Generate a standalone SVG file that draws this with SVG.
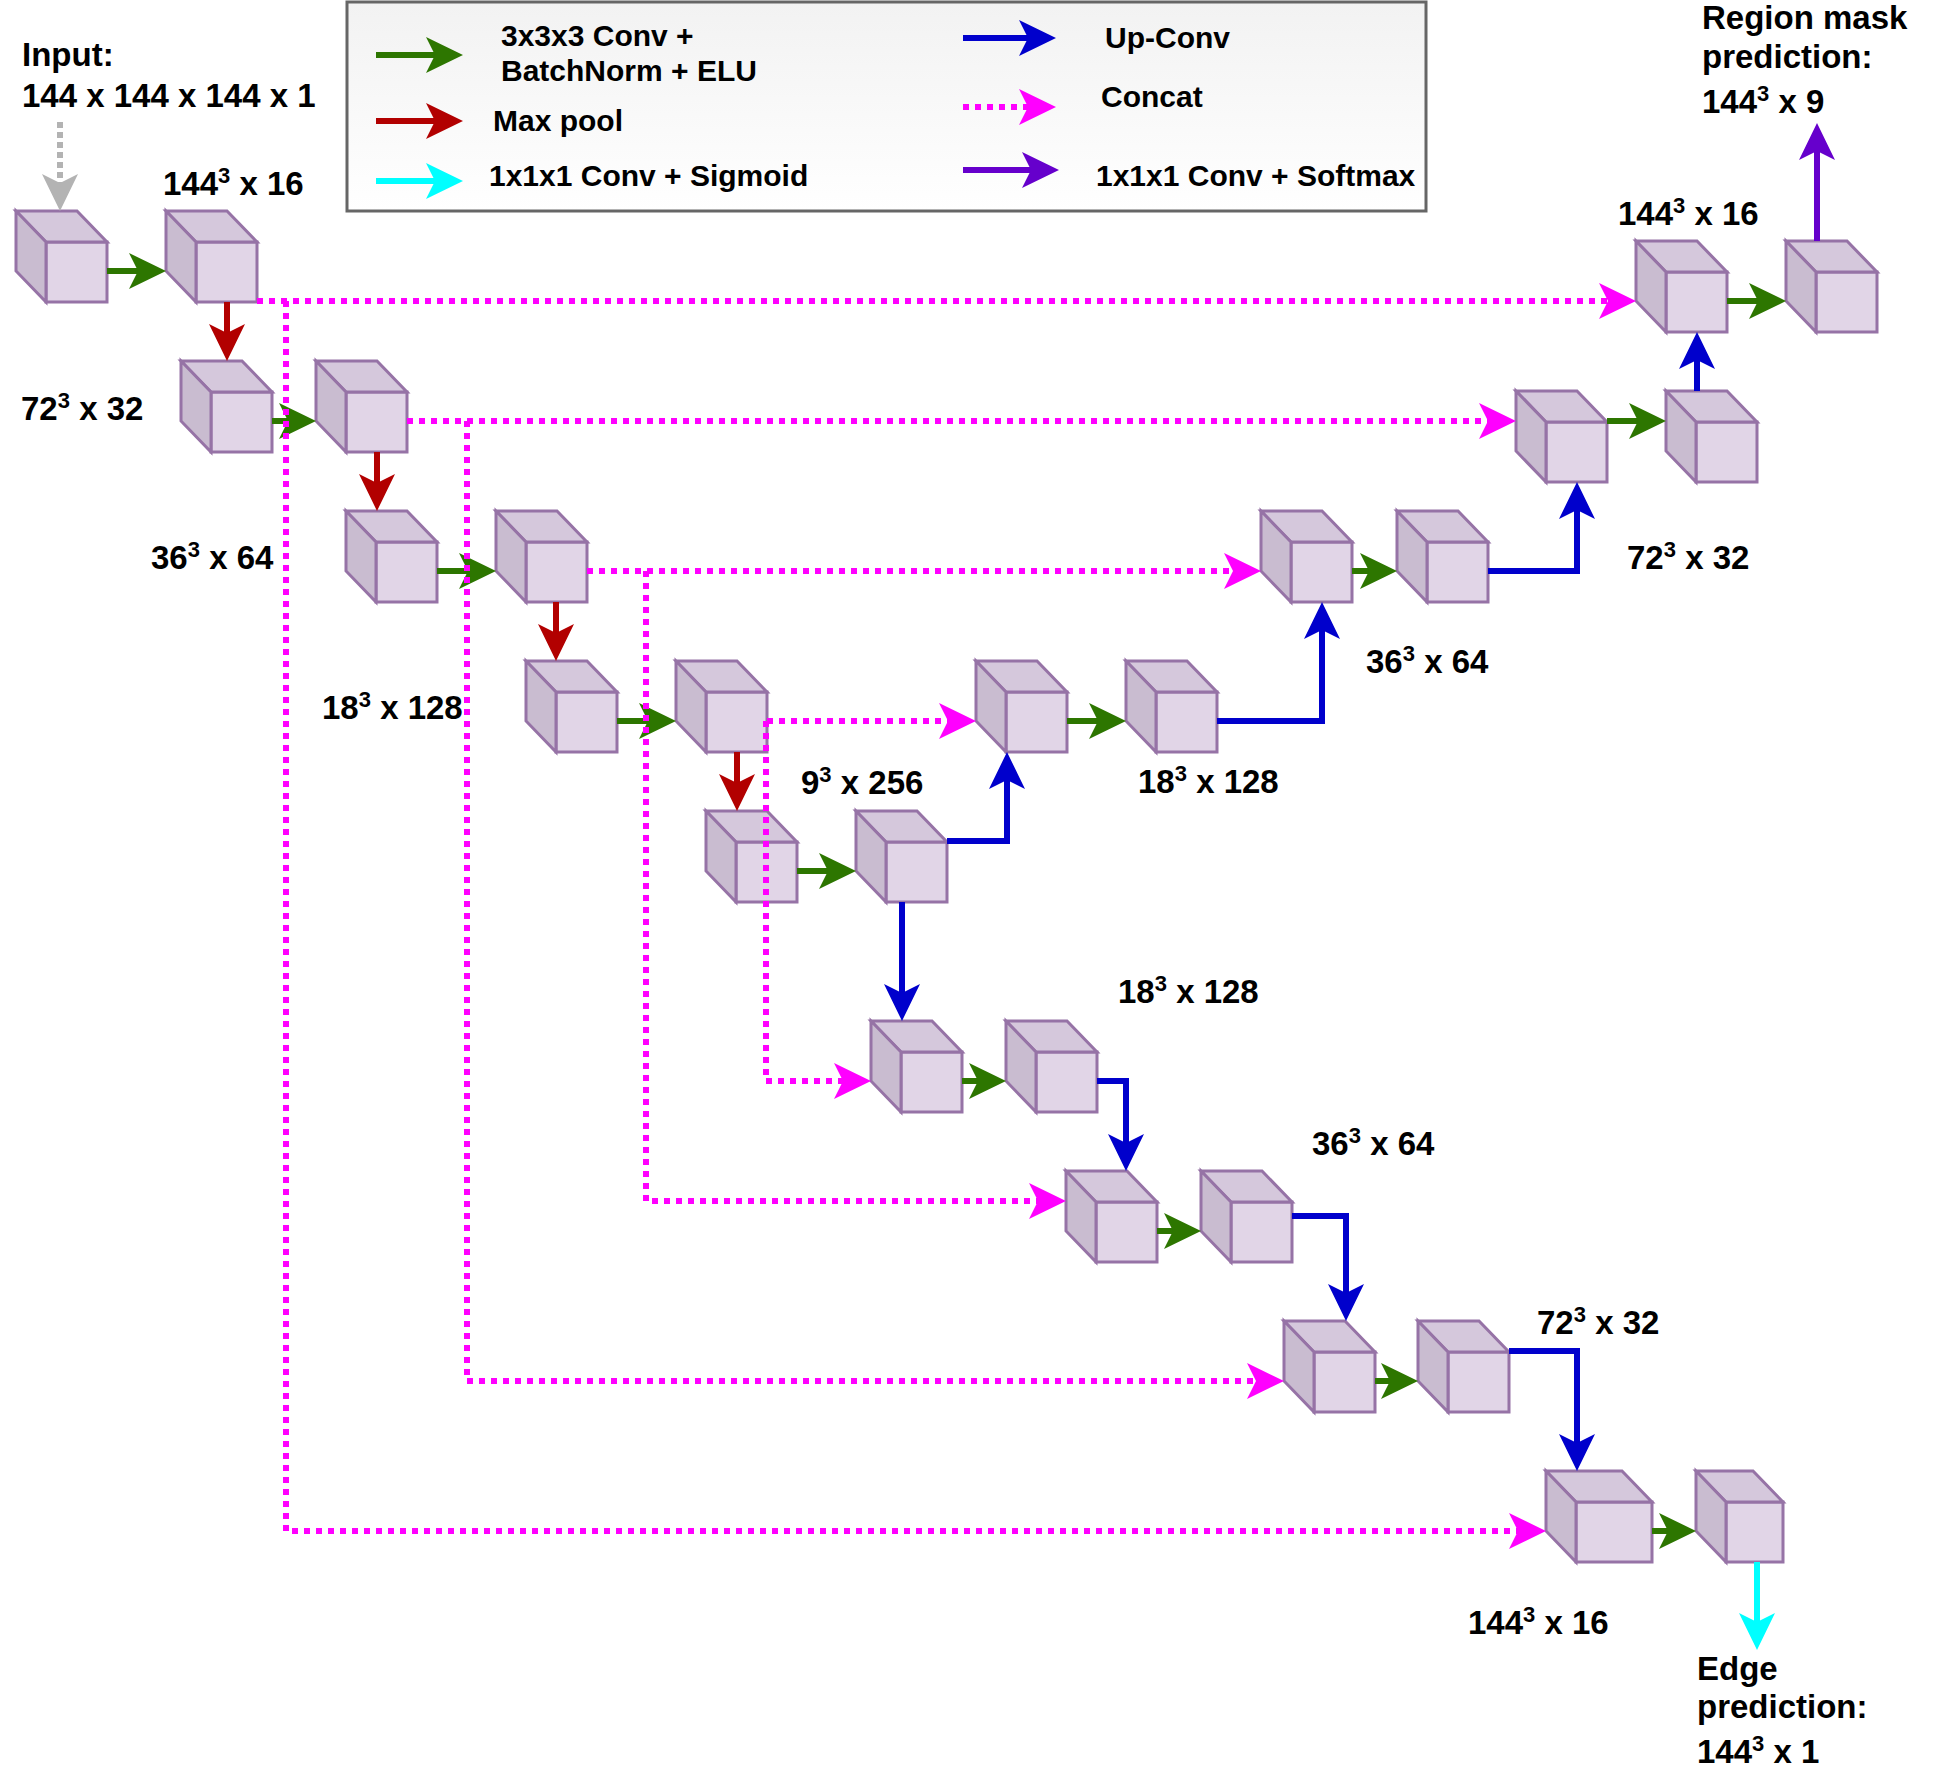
<svg xmlns="http://www.w3.org/2000/svg" width="1935" height="1773" viewBox="0 0 1935 1773">
<style>
.cf{fill:#e1d5e7;stroke:#9673a6;stroke-width:3;stroke-linejoin:miter}
.ct{fill:#d5c8dc;stroke:#9673a6;stroke-width:3}
.cl{fill:#c9bcd0;stroke:#9673a6;stroke-width:3}
.lbl{font-family:"Liberation Sans",Arial,sans-serif;font-weight:bold;font-size:33px;fill:#000}
.leg{font-family:"Liberation Sans",Arial,sans-serif;font-weight:bold;font-size:30px;fill:#000}
.sup{font-size:22px}
.c{fill:none;stroke-width:6;stroke-linejoin:miter}
.g{stroke:#2d7600;marker-end:url(#mg)}
.r{stroke:#b20000;marker-end:url(#mr)}
.b{stroke:#0000cc;marker-end:url(#mb)}
.m{stroke:#ff00ff;stroke-dasharray:6 6;marker-end:url(#mm)}
.cy{stroke:#00ffff;marker-end:url(#mc)}
.p{stroke:#6600cc;marker-end:url(#mp)}
.gr{stroke:#b3b3b3;stroke-dasharray:6 4;marker-end:url(#mgr)}
</style>
<defs>
<linearGradient id="lg" x1="0" y1="0" x2="0" y2="1">
<stop offset="0" stop-color="#f2f2f2"/>
<stop offset="1" stop-color="#ffffff"/>
</linearGradient>
<marker id="mg" markerUnits="userSpaceOnUse" orient="auto" markerWidth="60" markerHeight="60" refX="0" refY="0" viewBox="-30 -30 60 60" overflow="visible"><path d="M10,0 L-27,-18 L-18,0 L-27,18 Z" fill="#2d7600"/></marker>
<marker id="mr" markerUnits="userSpaceOnUse" orient="auto" markerWidth="60" markerHeight="60" refX="0" refY="0" viewBox="-30 -30 60 60" overflow="visible"><path d="M10,0 L-27,-18 L-18,0 L-27,18 Z" fill="#b20000"/></marker>
<marker id="mb" markerUnits="userSpaceOnUse" orient="auto" markerWidth="60" markerHeight="60" refX="0" refY="0" viewBox="-30 -30 60 60" overflow="visible"><path d="M10,0 L-27,-18 L-18,0 L-27,18 Z" fill="#0000cc"/></marker>
<marker id="mm" markerUnits="userSpaceOnUse" orient="auto" markerWidth="60" markerHeight="60" refX="0" refY="0" viewBox="-30 -30 60 60" overflow="visible"><path d="M10,0 L-27,-18 L-18,0 L-27,18 Z" fill="#ff00ff"/></marker>
<marker id="mc" markerUnits="userSpaceOnUse" orient="auto" markerWidth="60" markerHeight="60" refX="0" refY="0" viewBox="-30 -30 60 60" overflow="visible"><path d="M10,0 L-27,-18 L-18,0 L-27,18 Z" fill="#00ffff"/></marker>
<marker id="mp" markerUnits="userSpaceOnUse" orient="auto" markerWidth="60" markerHeight="60" refX="0" refY="0" viewBox="-30 -30 60 60" overflow="visible"><path d="M10,0 L-27,-18 L-18,0 L-27,18 Z" fill="#6600cc"/></marker>
<marker id="mgr" markerUnits="userSpaceOnUse" orient="auto" markerWidth="60" markerHeight="60" refX="0" refY="0" viewBox="-30 -30 60 60" overflow="visible"><path d="M10,0 L-27,-18 L-18,0 L-27,18 Z" fill="#b3b3b3"/></marker>
<g id="cube">
<path class="cf" d="M30,31 h61 v60 h-61 z"/>
<path class="ct" d="M0,0 h61 l30,31 h-61 z"/>
<path class="cl" d="M0,0 l30,31 v60 l-30,-31 z"/>
</g>
</defs>
<rect width="1935" height="1773" fill="#ffffff"/>

<g id="legend">
<rect x="347" y="2" width="1079" height="209" fill="url(#lg)" stroke="#666666" stroke-width="3"/>
<path class="c g" d="M376,55 H453"/>
<path class="c r" d="M376,121 H453"/>
<path class="c cy" d="M376,181 H453"/>
<path class="c b" d="M963,38 H1046"/>
<path class="c m" d="M963,107 H1046"/>
<path class="c p" d="M963,170 H1049"/>
<text class="leg" x="501" y="46">3x3x3 Conv +</text>
<text class="leg" x="501" y="81">BatchNorm + ELU</text>
<text class="leg" x="493" y="131">Max pool</text>
<text class="leg" x="489" y="186">1x1x1 Conv + Sigmoid</text>
<text class="leg" x="1105" y="48">Up-Conv</text>
<text class="leg" x="1101" y="107">Concat</text>
<text class="leg" x="1096" y="186">1x1x1 Conv + Softmax</text>
</g>

<g id="nodes">
<g id="enc1a"><use href="#cube" x="16" y="211"/></g>
<g id="enc1b"><use href="#cube" x="166" y="211"/></g>
<g id="enc2a"><use href="#cube" x="181" y="361"/></g>
<g id="enc2b"><use href="#cube" x="316" y="361"/></g>
<g id="enc3a"><use href="#cube" x="346" y="511"/></g>
<g id="enc3b"><use href="#cube" x="496" y="511"/></g>
<g id="enc4a"><use href="#cube" x="526" y="661"/></g>
<g id="enc4b"><use href="#cube" x="676" y="661"/></g>
<g id="bott_a"><use href="#cube" x="706" y="811"/></g>
<g id="bott_b"><use href="#cube" x="856" y="811"/></g>
<g id="up4a"><use href="#cube" x="976" y="661"/></g>
<g id="up4b"><use href="#cube" x="1126" y="661"/></g>
<g id="up3a"><use href="#cube" x="1261" y="511"/></g>
<g id="up3b"><use href="#cube" x="1397" y="511"/></g>
<g id="up2a"><use href="#cube" x="1516" y="391"/></g>
<g id="up2b"><use href="#cube" x="1666" y="391"/></g>
<g id="up1a"><use href="#cube" x="1636" y="241"/></g>
<g id="up1b"><use href="#cube" x="1786" y="241"/></g>
<g id="lo4a"><use href="#cube" x="871" y="1021"/></g>
<g id="lo4b"><use href="#cube" x="1006" y="1021"/></g>
<g id="lo3a"><use href="#cube" x="1066" y="1171"/></g>
<g id="lo3b"><use href="#cube" x="1201" y="1171"/></g>
<g id="lo2a"><use href="#cube" x="1284" y="1321"/></g>
<g id="lo2b"><use href="#cube" x="1418" y="1321"/></g>
<g id="lo1a" transform="translate(1546,1471)">
<path class="cf" d="M30,31 h76 v60 h-76 z"/>
<path class="ct" d="M0,0 h76 l30,31 h-76 z"/>
<path class="cl" d="M0,0 l30,31 v60 l-30,-31 z"/>
</g>
<g id="lo1b" transform="translate(1696,1471)">
<path class="cf" d="M30,31 h57 v60 h-57 z"/>
<path class="ct" d="M0,0 h57 l30,31 h-57 z"/>
<path class="cl" d="M0,0 l30,31 v60 l-30,-31 z"/>
</g>
</g>

<g id="connectors">
<path class="c gr" d="M60,122 V201"/>
<path class="c g" d="M107,271 H156"/>
<path class="c g" d="M272,421 H306"/>
<path class="c g" d="M437,571 H486"/>
<path class="c g" d="M617,721 H666"/>
<path class="c g" d="M797,871 H846"/>
<path class="c g" d="M1067,721 H1116"/>
<path class="c g" d="M1352,571 H1387"/>
<path class="c g" d="M1607,421 H1656"/>
<path class="c g" d="M1727,301 H1776"/>
<path class="c g" d="M962,1081 H996"/>
<path class="c g" d="M1157,1231 H1191"/>
<path class="c g" d="M1375,1381 H1408"/>
<path class="c g" d="M1652,1531 H1686"/>
<path class="c r" d="M227,302 V351"/>
<path class="c r" d="M377,452 V501"/>
<path class="c r" d="M556,602 V651"/>
<path class="c r" d="M737,752 V801"/>
<path class="c b" d="M947,841 H1007 V762"/>
<path class="c b" d="M902,902 V1011"/>
<path class="c b" d="M1217,721 H1322 V612"/>
<path class="c b" d="M1488,571 H1577 V492"/>
<path class="c b" d="M1697,391 V342"/>
<path class="c b" d="M1097,1081 H1126 V1161"/>
<path class="c b" d="M1292,1216 H1346 V1311"/>
<path class="c b" d="M1509,1351 H1577 V1461"/>
<path class="c m" d="M257,301 H1626"/>
<path class="c m" d="M286,301 V1531 H1536"/>
<path class="c m" d="M407,421 H1506"/>
<path class="c m" d="M467,421 V1381 H1274"/>
<path class="c m" d="M587,571 H1251"/>
<path class="c m" d="M646,571 V1201 H1056"/>
<path class="c m" d="M767,721 H966"/>
<path class="c m" d="M766,721 V1081 H861"/>
<path class="c p" d="M1817,241 V133"/>
<path class="c cy" d="M1757,1562 V1640"/>
</g>

<g id="labels">
<text class="lbl" x="22" y="66">Input:</text>
<text class="lbl" x="22" y="107">144 x 144 x 144 x 1</text>
<text class="lbl" x="163" y="195">144<tspan class="sup" dy="-12">3</tspan><tspan dy="12"> x 16</tspan></text>
<text class="lbl" x="21" y="420">72<tspan class="sup" dy="-12">3</tspan><tspan dy="12"> x 32</tspan></text>
<text class="lbl" x="151" y="569">36<tspan class="sup" dy="-12">3</tspan><tspan dy="12"> x 64</tspan></text>
<text class="lbl" x="322" y="719">18<tspan class="sup" dy="-12">3</tspan><tspan dy="12"> x 128</tspan></text>
<text class="lbl" x="801" y="794">9<tspan class="sup" dy="-12">3</tspan><tspan dy="12"> x 256</tspan></text>
<text class="lbl" x="1138" y="793">18<tspan class="sup" dy="-12">3</tspan><tspan dy="12"> x 128</tspan></text>
<text class="lbl" x="1366" y="673">36<tspan class="sup" dy="-12">3</tspan><tspan dy="12"> x 64</tspan></text>
<text class="lbl" x="1627" y="569">72<tspan class="sup" dy="-12">3</tspan><tspan dy="12"> x 32</tspan></text>
<text class="lbl" x="1618" y="225">144<tspan class="sup" dy="-12">3</tspan><tspan dy="12"> x 16</tspan></text>
<text class="lbl" x="1702" y="29">Region mask</text>
<text class="lbl" x="1702" y="68">prediction:</text>
<text class="lbl" x="1702" y="113">144<tspan class="sup" dy="-12">3</tspan><tspan dy="12"> x 9</tspan></text>
<text class="lbl" x="1118" y="1003">18<tspan class="sup" dy="-12">3</tspan><tspan dy="12"> x 128</tspan></text>
<text class="lbl" x="1312" y="1155">36<tspan class="sup" dy="-12">3</tspan><tspan dy="12"> x 64</tspan></text>
<text class="lbl" x="1537" y="1334">72<tspan class="sup" dy="-12">3</tspan><tspan dy="12"> x 32</tspan></text>
<text class="lbl" x="1468" y="1634">144<tspan class="sup" dy="-12">3</tspan><tspan dy="12"> x 16</tspan></text>
<text class="lbl" x="1697" y="1680">Edge</text>
<text class="lbl" x="1697" y="1718">prediction:</text>
<text class="lbl" x="1697" y="1763">144<tspan class="sup" dy="-12">3</tspan><tspan dy="12"> x 1</tspan></text>
</g>
</svg>
